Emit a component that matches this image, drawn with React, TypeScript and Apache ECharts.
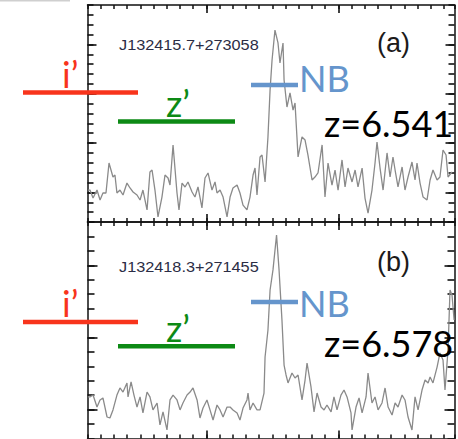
import { useEffect, useRef } from "react";
import * as echarts from "echarts";

// Spectrum of J132415.7+273058: wavelength (Å) and flux (arbitrary units)
const waveA = [
  9010.4, 9011.9, 9014.2, 9017.2, 9019.5, 9021.7, 9024.0, 9026.3, 9029.3, 9030.8,
  9032.3, 9034.6, 9036.9, 9039.9, 9042.2, 9044.5, 9047.5, 9049.8, 9052.0, 9055.1,
  9057.3, 9058.9, 9061.1, 9063.4, 9066.4, 9068.7, 9071.0, 9072.5, 9074.8, 9077.8,
  9079.3, 9081.6, 9083.9, 9086.1, 9089.2, 9091.4, 9093.7, 9096.7, 9099.0, 9101.3,
  9104.3, 9106.6, 9108.1, 9110.4, 9112.7, 9115.7, 9118.0, 9120.2, 9123.3, 9125.5,
  9127.8, 9130.8, 9133.1, 9135.4, 9136.9, 9138.4, 9140.7, 9142.2, 9144.5, 9146.7,
  9148.3, 9149.8, 9152.0, 9154.3, 9155.8, 9158.1, 9158.9, 9161.1, 9163.4, 9165.7,
  9167.2, 9169.5, 9172.5, 9174.8, 9177.0, 9180.1, 9182.3, 9184.6, 9187.7, 9189.9,
  9192.2, 9195.2, 9197.5, 9199.8, 9202.8, 9205.1, 9207.3, 9210.4, 9212.7, 9214.9,
  9218.0, 9220.2, 9222.5, 9225.5, 9227.8, 9229.3, 9231.6, 9233.9, 9236.9, 9239.2,
  9241.4, 9243.0, 9245.2, 9248.3, 9250.5, 9252.8, 9255.8, 9258.1, 9259.6, 9261.9,
  9264.2, 9267.2, 9269.5, 9271.7, 9274.8, 9277.0, 9279.3, 9281.6, 9283.1, 9286.1,
];
const fluxA = [
  3.24, 3.24, 2.43, 3.24, 2.23, 2.94, 2.94, 5.98, 4.56, 4.76,
  2.94, 3.24, 2.74, 3.95, 3.45, 3.04, 2.74, 2.23, 3.24, 1.22,
  5.07, 5.27, 3.24, 0.51, 2.53, 4.76, 4.46, 3.75, 7.81, 2.94,
  1.22, 3.95, 3.55, 4.06, 3.04, 2.53, 3.55, 1.42, 4.46, 4.97,
  3.24, 4.06, 2.94, 3.24, 2.53, 0.51, 2.53, 3.45, 3.75, 2.94,
  1.72, 1.22, 2.53, 4.76, 5.47, 2.74, 6.59, 6.79, 4.06, 8.62,
  13.38, 16.42, 19.46, 18.15, 16.12, 18.15, 14.4, 11.66, 13.08, 11.35,
  12.06, 6.59, 8.62, 8.31, 6.79, 4.26, 4.56, 4.97, 7.81, 2.53,
  5.98, 3.75, 5.27, 3.24, 6.29, 3.55, 5.47, 4.06, 5.27, 3.55,
  5.47, 2.43, 0.91, 3.24, 5.98, 8.11, 5.47, 3.24, 7.0, 4.56,
  6.59, 5.27, 3.55, 5.58, 3.24, 4.56, 6.08, 4.26, 5.98, 3.95,
  2.53, 2.23, 4.26, 5.27, 4.26, 4.56, 7.3, 6.79, 4.56, 5.07,
];

// Spectrum of J132418.3+271455
const waveB = [
  9010.4, 9011.9, 9014.2, 9017.2, 9019.5, 9021.7, 9024.8, 9027.0, 9029.3, 9032.3,
  9034.6, 9036.9, 9039.9, 9040.7, 9043.0, 9045.2, 9047.5, 9049.8, 9052.0, 9055.1,
  9057.3, 9059.6, 9062.7, 9064.9, 9067.2, 9070.2, 9072.5, 9074.8, 9077.8, 9080.1,
  9082.3, 9085.4, 9087.7, 9089.9, 9093.0, 9095.2, 9097.5, 9100.5, 9102.8, 9105.1,
  9108.1, 9110.4, 9112.7, 9115.7, 9118.0, 9120.2, 9123.3, 9125.5, 9127.8, 9130.8,
  9131.6, 9133.1, 9135.4, 9138.4, 9140.7, 9143.7, 9144.5, 9146.7, 9148.3, 9150.5,
  9153.2, 9155.1, 9157.3, 9158.9, 9160.4, 9161.9, 9164.9, 9167.2, 9169.5, 9172.5,
  9174.8, 9176.3, 9179.3, 9181.6, 9183.9, 9186.9, 9189.2, 9191.4, 9194.5, 9196.7,
  9199.0, 9202.0, 9204.3, 9206.6, 9209.6, 9210.4, 9213.4, 9215.7, 9218.0, 9221.0,
  9222.5, 9225.5, 9227.8, 9230.1, 9233.1, 9235.4, 9237.7, 9240.7, 9243.0, 9245.2,
  9248.3, 9250.5, 9252.8, 9255.8, 9258.1, 9260.4, 9263.4, 9265.7, 9268.0, 9269.5,
  9271.7, 9274.8, 9277.0, 9279.3, 9280.8, 9283.1, 9284.6, 9286.1, 9287.7,
];
const fluxB = [
  2.88, 2.88, 3.01, 2.18, 2.67, 2.81, 1.49, 1.42, 1.98, 3.01,
  3.5, 3.22, 3.85, 2.88, 3.92, 3.01, 2.18, 2.88, 1.77, 3.22,
  2.88, 1.98, 2.46, 0.94, 1.84, 0.59, 2.67, 3.01, 2.67, 1.98,
  2.46, 3.01, 3.22, 3.5, 2.67, 1.42, 2.11, 2.67, 1.98, 1.28,
  2.32, 1.98, 1.49, 2.18, 2.18, 1.98, 1.77, 1.28, 2.11, 2.67,
  3.15, 1.98, 2.46, 1.98, 1.98, 3.15, 5.65, 7.52, 10.29, 11.68,
  14.1, 11.68, 8.21, 5.09, 4.4, 3.85, 4.54, 4.19, 4.4, 2.67,
  4.05, 5.23, 3.57, 1.84, 3.15, 2.18, 1.98, 2.32, 1.84, 2.88,
  1.98, 3.01, 3.36, 2.88, 1.77, 0.59, 2.18, 2.81, 1.77, 2.88,
  4.54, 2.46, 2.88, 1.98, 2.46, 3.5, 2.18, 1.63, 2.46, 2.18,
  3.01, 2.67, 1.49, 0.59, 2.88, 1.98, 3.36, 4.05, 3.85, 4.26,
  3.85, 4.95, 5.93, 5.44, 3.36, 6.13, 10.29, 9.94, 8.21,
];

// Axis extents and tick positions
const WAVE_MIN = 9010;
const WAVE_MAX = 9288;
const WAVE_MINOR_STEP = 10;
const WAVE_MAJOR_TICKS = [9100, 9200];
const FLUX_MAX = [22, 15];
const FLUX_MAJOR_TICKS = [
  [3, 8, 13, 18],
  [2, 7, 12],
];

// Texts
const objectNames = ["J132415.7+273058", "J132418.3+271455"];
const panelTags = ["(a)", "(b)"];
const redshiftLabels = ["z=6.541", "z=6.578"];
const filterNames = ["i’", "z’", "NB"];

const FRAME = "#111111";
const RED = "#f8341c";
const GREEN = "#0d8a15";
const BLUE = "#6595cc";
const SPEC = "#8a8a8a";
const ANNOT_FONT = "Lato, 'Open Sans', sans-serif";

// Panel geometry (px) and where the filter bars / labels sit in each panel
const PANELS = [
  {
    top: 5, height: 217, yMinorLen: 6, yMajorLen: 9,
    redY: 92.5, greenY: 121.5, blueY: 85,
    iBase: 88, zBase: 117, nbBase: 92, zLabBase: 137,
    idY: 44.5, tagY: 43,
  },
  {
    top: 222, height: 216.5, yMinorLen: 7, yMajorLen: 10,
    redY: 322, greenY: 346.3, blueY: 302,
    iBase: 317, zBase: 342, nbBase: 317, zLabBase: 357,
    idY: 266.5, tagY: 262,
  },
];
const GRID_LEFT = 87.5;
const GRID_WIDTH = 367;

function xAxesFor(gridIndex: number) {
  const base = {
    gridIndex,
    type: "value",
    min: WAVE_MIN,
    max: WAVE_MAX,
    axisLabel: { show: false },
    splitLine: { show: false },
  };
  const out: any[] = [];
  for (const position of ["bottom", "top"]) {
    out.push({
      ...base,
      position,
      interval: WAVE_MINOR_STEP,
      axisLine: { show: true, onZero: false, lineStyle: { color: FRAME, width: 1.5 } },
      axisTick: { show: true, inside: true, length: 4, lineStyle: { color: FRAME, width: 1.5 } },
    });
    out.push({
      ...base,
      position,
      axisLine: { show: false, onZero: false },
      axisTick: {
        show: true,
        inside: true,
        length: 8,
        customValues: WAVE_MAJOR_TICKS,
        lineStyle: { color: FRAME, width: 1.6 },
      },
    });
  }
  return out;
}

function yAxesFor(gridIndex: number) {
  const p = PANELS[gridIndex];
  const base = {
    gridIndex,
    type: "value",
    min: 0,
    max: FLUX_MAX[gridIndex],
    axisLabel: { show: false },
    splitLine: { show: false },
  };
  const out: any[] = [];
  for (const position of ["left", "right"]) {
    out.push({
      ...base,
      position,
      interval: 1,
      axisLine: { show: true, onZero: false, lineStyle: { color: FRAME, width: 1.5 } },
      axisTick: { show: true, inside: true, length: p.yMinorLen, lineStyle: { color: FRAME, width: 1.6 } },
    });
    out.push({
      ...base,
      position,
      axisLine: { show: false, onZero: false },
      axisTick: {
        show: true,
        inside: true,
        length: p.yMajorLen,
        customValues: FLUX_MAJOR_TICKS[gridIndex],
        lineStyle: { color: FRAME, width: 1.6 },
      },
    });
  }
  return out;
}

// Lato sits its "central" baseline about 0.39 em above the alphabetic one
function textAtBaseline(text: string, x: number, baseline: number, fill: string, size: number) {
  return {
    type: "text",
    x,
    y: baseline - 0.39 * size,
    z: 100,
    style: {
      text,
      fill,
      font: `${size}px ${ANNOT_FONT}`,
      align: "left",
      verticalAlign: "middle",
    },
  };
}

function bar(x1: number, x2: number, y: number, stroke: string) {
  return {
    type: "line",
    z: 90,
    shape: { x1, y1: y, x2, y2: y },
    style: { stroke, lineWidth: 4.5 },
  };
}

function annotations() {
  const els: any[] = [
    { type: "rect", z: 1, shape: { x: 0, y: 0, width: 70, height: 1.5 }, style: { fill: "#cfcfcf" } },
  ];
  PANELS.forEach((p, i) => {
    els.push({
      type: "text",
      x: 119,
      y: p.idY,
      z: 100,
      scaleX: 1.05,
      style: {
        text: objectNames[i],
        fill: "#2b2d45",
        font: "15.5px 'Liberation Sans', Arial, sans-serif",
        align: "left",
        verticalAlign: "middle",
      },
    });
    els.push({
      type: "text",
      x: 377,
      y: p.tagY,
      z: 100,
      style: {
        text: panelTags[i],
        fill: "#1c1a1a",
        font: "27px 'Liberation Sans', Arial, sans-serif",
        align: "left",
        verticalAlign: "middle",
      },
    });
    els.push(bar(23, 138, p.redY, RED));
    els.push(bar(118, 235, p.greenY, GREEN));
    els.push(bar(251, 298, p.blueY, BLUE));
    els.push(textAtBaseline(filterNames[0], 62, p.iBase, RED, 36));
    els.push(textAtBaseline(filterNames[1], 166, p.zBase, GREEN, 36));
    els.push(textAtBaseline(filterNames[2], 299, p.nbBase, BLUE, 36));
    els.push(textAtBaseline(redshiftLabels[i], 324, p.zLabBase, "#000000", 36));
  });
  return els;
}

export default function App() {
  const ref = useRef<HTMLDivElement>(null);

  useEffect(() => {
    if (!ref.current) return;
    const chart = echarts.init(ref.current, undefined, { renderer: "svg" });

    const spectra = [
      waveA.map((w, i) => [w, fluxA[i]]),
      waveB.map((w, i) => [w, fluxB[i]]),
    ];

    chart.setOption({
      animation: false,
      backgroundColor: "#ffffff",
      grid: PANELS.map((p) => ({
        left: GRID_LEFT,
        top: p.top,
        width: GRID_WIDTH,
        height: p.height,
        containLabel: false,
        outerBoundsMode: "none",
      })),
      xAxis: [...xAxesFor(0), ...xAxesFor(1)],
      yAxis: [...yAxesFor(0), ...yAxesFor(1)],
      series: spectra.map((data, i) => ({
        type: "line",
        xAxisIndex: i * 4,
        yAxisIndex: i * 4,
        data,
        symbol: "none",
        showSymbol: false,
        silent: true,
        lineStyle: { color: SPEC, width: 1.3 },
      })),
      graphic: { elements: annotations() },
    });

    return () => chart.dispose();
  }, []);

  return (
    <div
      ref={ref}
      style={{ position: "fixed", left: 0, top: 0, width: 458, height: 439, background: "#fff" }}
    />
  );
}
